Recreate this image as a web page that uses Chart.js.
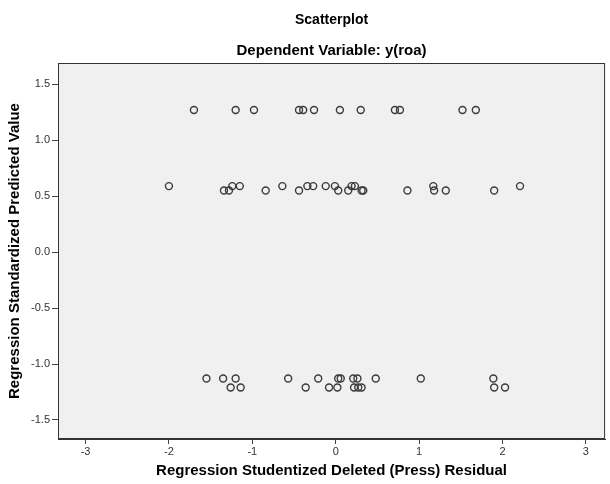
<!DOCTYPE html>
<html>
<head>
<meta charset="utf-8">
<script src="https://cdn.jsdelivr.net/npm/chart.js@4/dist/chart.umd.min.js"></script>
<style>
  html, body { margin: 0; padding: 0; background: #fff; }
  #wrap { width: 610px; height: 484px; }
</style>
</head>
<body>
<div id="wrap"><canvas id="myChart" width="610" height="484"></canvas></div>
<script>
// predicted value levels (y) and the residuals (x) found at each level
var predictedLevels = [1.27, 0.59, 0.55, -1.13, -1.21];
var residualsByLevel = [
  [-1.70, -1.20, -0.98, -0.44, -0.39, -0.26, 0.05, 0.30, 0.71, 0.77, 1.52, 1.68],
  [-2.00, -1.24, -1.15, -0.64, -0.34, -0.27, -0.12, -0.01, 0.19, 0.23, 1.17, 2.21],
  [-1.34, -1.28, -0.84, -0.44, 0.03, 0.15, 0.31, 0.33, 0.86, 1.18, 1.32, 1.90],
  [-1.55, -1.35, -1.20, -0.57, -0.21, 0.03, 0.06, 0.21, 0.26, 0.48, 1.02, 1.89],
  [-1.26, -1.14, -0.36, -0.08, 0.02, 0.22, 0.27, 0.31, 1.90, 2.03]
];
var xTicks = [-3, -2, -1, 0, 1, 2, 3];
var yTicks = [-1.5, -1.0, -0.5, 0.0, 0.5, 1.0, 1.5];

var points = [];
for (var i in predictedLevels) {
  for (var j in residualsByLevel[i]) {
    points.push({ x: residualsByLevel[i][j], y: predictedLevels[i] });
  }
}

var fontFam = "'Liberation Sans', Arial, sans-serif";

// grey plot background + frame round the chart area
var plotFrame = {
  id: 'plotFrame',
  beforeDraw: function (chart) {
    var a = chart.chartArea, c = chart.ctx;
    c.save();
    c.fillStyle = '#f0f0f0';
    c.fillRect(a.left, a.top, a.right - a.left, a.bottom - a.top);
    c.restore();
  },
  afterDraw: function (chart) {
    var a = chart.chartArea, c = chart.ctx;
    c.save();
    c.strokeStyle = '#333';
    c.lineWidth = 1;
    c.strokeRect(a.left + 0.5, a.top + 0.5, a.right - a.left - 1, a.bottom - a.top - 1);
    c.restore();
  }
};

var ctx = document.getElementById('myChart');
var myChart = new Chart(ctx, {
  type: 'scatter',
  data: {
    datasets: [{
      data: points,
      backgroundColor: 'rgba(0,0,0,0)',
      borderColor: '#3a3a3a',
      borderWidth: 1.4,
      pointRadius: 3.5,
      pointHoverRadius: 3.5
    }]
  },
  options: {
    responsive: false,
    animation: false,
    layout: { padding: { left: 0, right: 2, top: 0, bottom: 0 } },
    plugins: {
      legend: { display: false },
      tooltip: { enabled: false },
      title: {
        display: true,
        text: 'Scatterplot',
        fullSize: false,
        color: '#000',
        font: { family: fontFam, size: 14, weight: 'bold' },
        padding: { top: 12, bottom: 13.2 }
      },
      subtitle: {
        display: true,
        text: 'Dependent Variable: y(roa)',
        fullSize: false,
        color: '#000',
        font: { family: fontFam, size: 15, weight: 'bold' },
        padding: { top: 0, bottom: 3 }
      }
    },
    scales: {
      x: {
        type: 'linear',
        min: -3.33,
        max: 3.23,
        afterBuildTicks: function (s) { s.ticks = xTicks.map(function (v) { return { value: v }; }); },
        afterFit: function (s) { s.height = 45; },
        grid: { drawOnChartArea: false, drawTicks: true, tickLength: 5, color: '#444' },
        border: { display: true, color: '#333' },
        ticks: {
          color: '#333',
          padding: 1,
          maxRotation: 0,
          font: { family: fontFam, size: 11 },
          callback: function (v) { return String(v); }
        },
        title: {
          display: true,
          text: 'Regression Studentized Deleted (Press) Residual',
          color: '#000',
          font: { family: fontFam, size: 15, weight: 'bold' },
          padding: { top: 4, bottom: 4 }
        }
      },
      y: {
        type: 'linear',
        min: -1.67,
        max: 1.69,
        afterBuildTicks: function (s) { s.ticks = yTicks.map(function (v) { return { value: v }; }); },
        afterFit: function (s) { s.width = 58; },
        grid: { drawOnChartArea: false, drawTicks: true, tickLength: 6, color: '#444' },
        border: { display: true, color: '#333' },
        ticks: {
          color: '#333',
          padding: 2,
          font: { family: fontFam, size: 11 },
          callback: function (v) { return v.toFixed(1); }
        },
        title: {
          display: true,
          text: 'Regression Standardized Predicted Value',
          color: '#000',
          font: { family: fontFam, size: 15, weight: 'bold' },
          padding: { top: 6, bottom: 0 }
        }
      }
    }
  },
  plugins: [plotFrame]
});
</script>
</body>
</html>
